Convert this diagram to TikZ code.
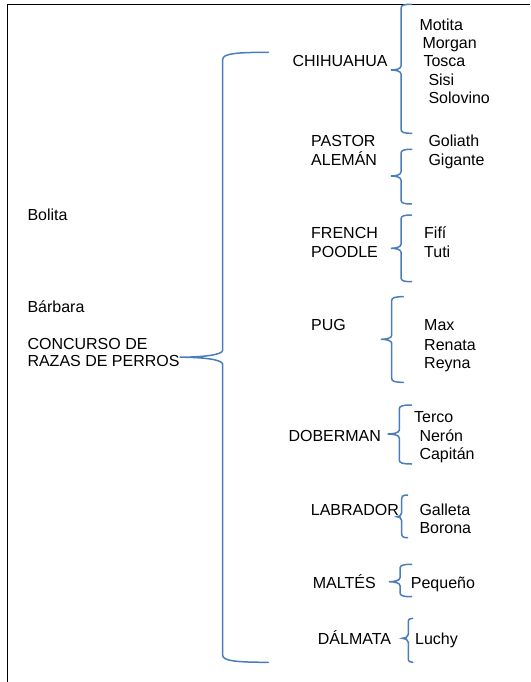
\documentclass[tikz,border=0pt]{standalone}
\usepackage{fontspec}
\setmainfont{Liberation Sans}
\usepackage{tikz}
\usetikzlibrary{positioning}
\definecolor{braceblue}{RGB}{74,126,187}
\tikzstyle{bracket} = [draw=braceblue, line width=1.5pt, line cap=round]
\tikzstyle{frame} = [draw=black, line width=1.1pt]
\tikzstyle{txt} = [anchor=base west, inner sep=0pt]

% spine x, top y, bottom y, tip y, arm, tip length, bend
\newcommand{\curlybrace}[7]{%
  \draw[bracket] ({#1+#5},#2) .. controls ({#1+0.3*#5},#2) and (#1,{#2+0.2*#7}) .. (#1,{#2+#7})
    -- (#1,{#4-#7}) .. controls (#1,{#4-0.3*#7}) and ({#1-0.5*#6},#4) .. ({#1-#6},#4)
    .. controls ({#1-0.5*#6},#4) and (#1,{#4+0.3*#7}) .. (#1,{#4+#7})
    -- (#1,{#3-#7}) .. controls (#1,{#3-0.2*#7}) and ({#1+0.3*#5},#3) .. ({#1+#5},#3);}

\begin{document}
\begin{tikzpicture}[x=1pt, y=-1pt, font=\fontsize{16}{18}\selectfont]

    \useasboundingbox (0,0) rectangle (530,682);
    \draw[frame] (7.3,682) -- (7.3,4.3) -- (530,4.3);

    % left column
    \node[txt] (bolita) at (27.3,220) {Bolita};
    \node[txt] (barbara) at (27.3,312.3) {Bárbara};
    \node[txt] (concurso) at (27.3,349.3) {CONCURSO DE};
    \node[txt] (razas) at (27.3,366.7) {RAZAS DE PERROS};

    % breeds
    \node[txt] (chihuahua) at (292.3,66.7) {CHIHUAHUA};
    \node[txt] (pastor) at (311,146.7) {PASTOR};
    \node[txt] (aleman) at (311,165.7) {ALEMÁN};
    \node[txt] (french) at (311,238.3) {FRENCH};
    \node[txt] (poodle) at (311,257.3) {POODLE};
    \node[txt] (pug) at (311,330.7) {PUG};
    \node[txt] (doberman) at (288.3,441) {DOBERMAN};
    \node[txt] (labrador) at (310.7,515) {LABRADOR};
    \node[txt] (maltes) at (312.7,588.3) {MALTÉS};
    \node[txt] (dalmata) at (317.7,644) {DÁLMATA};

    % dogs
    \node[txt] (motita) at (419.3,30.7) {Motita};
    \node[txt] (morgan) at (422.3,49) {Morgan};
    \node[txt] (tosca) at (423.3,66.7) {Tosca};
    \node[txt] (sisi) at (428.3,85.7) {Sisi};
    \node[txt] (solovino) at (428.3,104) {Solovino};
    \node[txt] (goliath) at (428.3,146.7) {Goliath};
    \node[txt] (gigante) at (428.3,165.7) {Gigante};
    \node[txt] (fifi) at (424,238.3) {Fifí};
    \node[txt] (tuti) at (424,257.3) {Tuti};
    \node[txt] (max) at (424,330.7) {Max};
    \node[txt] (renata) at (424,350) {Renata};
    \node[txt] (reyna) at (424,368.3) {Reyna};
    \node[txt] (terco) at (414,422.7) {Terco};
    \node[txt] (neron) at (419.3,441.7) {Nerón};
    \node[txt] (capitan) at (419.3,459.3) {Capitán};
    \node[txt] (galleta) at (419.3,515) {Galleta};
    \node[txt] (borona) at (419.3,533.3) {Borona};
    \node[txt] (pequeno) at (410.7,588.3) {Pequeño};
    \node[txt] (luchy) at (415,644) {Luchy};

    % braces
    \curlybrace{222.7}{52.3}{662.3}{357.2}{45.6}{43}{7}
    \curlybrace{401}{4.3}{133.3}{70}{10.7}{10}{4}
    \curlybrace{401}{149.3}{204}{176}{10.7}{10}{4}
    \curlybrace{401}{215}{281.7}{248.3}{10.7}{10}{4}
    \curlybrace{391.7}{296.7}{382.3}{339.3}{11.6}{10.7}{4}
    \curlybrace{399.3}{405}{464}{434}{12.4}{11.6}{4}
    \curlybrace{401.7}{495}{537.7}{516.7}{6}{5}{4}
    \curlybrace{400}{564.3}{596.7}{581.7}{11.7}{11}{4}
    \curlybrace{408.3}{618.3}{662.3}{638.3}{4.4}{6}{4}

\end{tikzpicture}
\end{document}
